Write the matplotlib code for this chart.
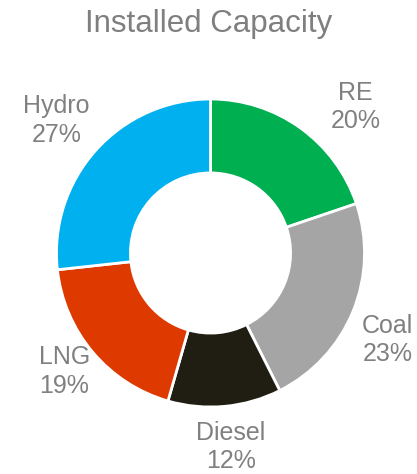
import numpy as np
import matplotlib
matplotlib.use("Agg")
import matplotlib.pyplot as plt

plt.rcParams['font.family'] = ['Liberation Sans', 'DejaVu Sans']

# data
sources = ["RE", "Coal", "Diesel", "LNG", "Hydro"]
shares = [20, 23, 12, 19, 27]
colors = ["#00AF50", "#A5A5A5", "#201D12", "#DE3A00", "#00B0EF"]

# label centres (in units of the ring radius), Excel "best fit" style
label_pos = [(0.94, 0.95), (1.15, -0.565), (0.133, -1.26), (-0.95, -0.77), (-1.0, 0.86)]

W, H = 417, 474
cx, cy, R = 210.5, 253, 154  # pixels (y from top)

fig = plt.figure(figsize=(W / 100, H / 100), dpi=100)
ax = fig.add_axes([0, 0, 1, 1])

ax.pie(shares, colors=colors, startangle=90, counterclock=False, radius=1,
       wedgeprops=dict(width=0.48, edgecolor="white", linewidth=2))

# pie resets the limits, so put them back afterwards
ax.set_aspect("auto")
ax.set_xlim(-cx / R, (W - cx) / R)
ax.set_ylim(-(H - cy) / R, cy / R)
ax.axis("off")

for name, val, (x, y) in zip(sources, shares, label_pos):
    ax.text(x, y, f"{name}\n{val}%", ha="center", va="center",
            fontsize=18, color="#808080", linespacing=1.22)

fig.text(0.5, (H - 32) / H, "Installed Capacity", ha="center", va="baseline",
         fontsize=22.5, color="#7F7F7F")

fig.savefig("out.png", dpi=100)
